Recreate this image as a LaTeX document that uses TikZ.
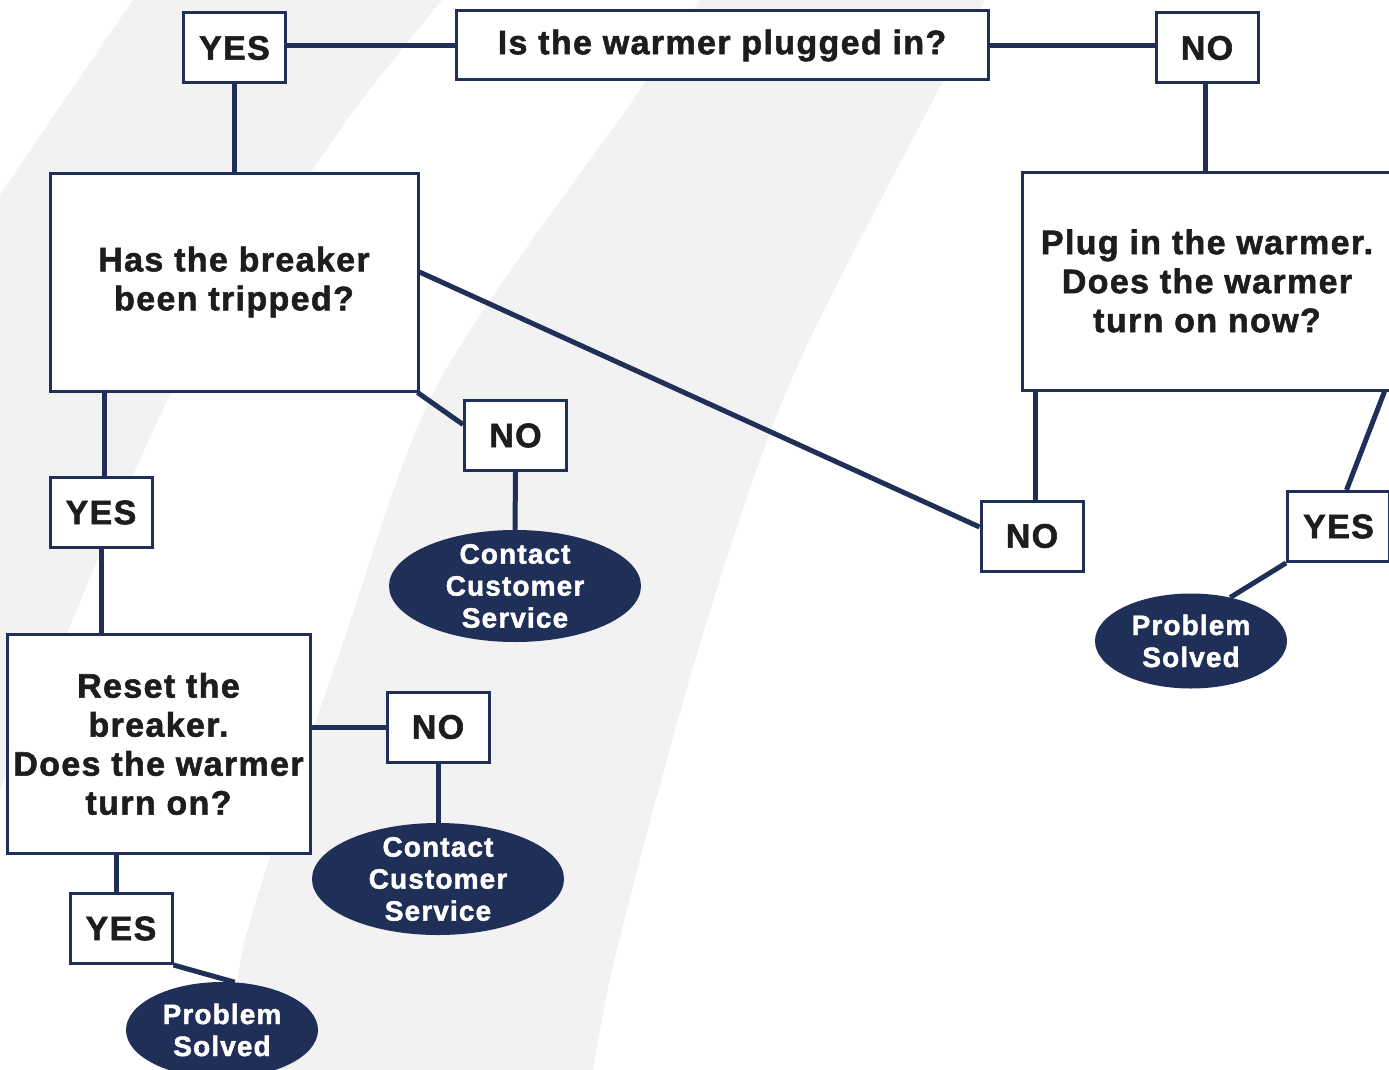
\documentclass[tikz,border=0pt]{standalone}
\usepackage{fontspec}
\setmainfont{Liberation Sans}[LetterSpace=4, BoldFeatures={FakeBold=1.6}]
\usetikzlibrary{shapes.geometric,calc}
\definecolor{navy}{RGB}{31,47,87}
\definecolor{bandgray}{RGB}{242,242,243}
\definecolor{ink}{RGB}{29,29,27}
\begin{document}
\begin{tikzpicture}[x=1pt,y=-1pt,
  box/.style={draw=navy,line width=3pt,fill=white,inner sep=0pt,align=center,text=ink,
    font=\bfseries\fontsize{34}{39}\selectfont},
  ans/.style={box,minimum width=102pt,minimum height=70pt},
  term/.style={ellipse,fill=navy,inner xsep=0pt,inner ysep=-10pt,align=center,text=white,
    font=\bfseries\fontsize{28}{32}\selectfont},
  link/.style={draw=navy,line width=5pt}]
\useasboundingbox (0,0) rectangle (1389,1070);
\fill[white] (0,0) rectangle (1389,1070);
% background bands
\fill[bandgray] plot[smooth] coordinates {(140,-10) (133,0) (44,130) (0,195) (-20,225)}
  -- (-20,860) -- plot[smooth] coordinates {(-20,840) (0,790) (64,640) (178,380) (340,130) (442,0) (450,-10)} -- cycle;
\fill[bandgray] plot[smooth] coordinates {(706,-10) (700,0) (633,100) (440,380) (344,640) (245,940) (235,1070) (234,1080)}
  -- plot[smooth] coordinates {(592,1080) (593,1070) (619,940) (701,640) (791,380) (933,100) (985,0) (990,-10)} -- cycle;

% nodes
\node[box,minimum width=532pt,minimum height=69pt] (q) at (722,45.5) {Is the warmer plugged in?};
\node[ans] (yes1) at (234.5,48) {YES};
\node[ans] (no1) at (1207,48) {NO};
\node[box,minimum width=368pt,minimum height=218pt] (brk) at (234,282) {Has the breaker\\been tripped?};
\node[box,minimum width=370pt,minimum height=218pt] (plug) at (1207,281) {Plug in the warmer.\\Does the warmer\\turn on now?};
\node[ans] (no2) at (515.5,435.5) {NO};
\node[term,minimum width=252pt,minimum height=112pt] (cc1) at (515,586) {Contact\\Customer\\Service};
\node[ans] (no3) at (1032,536) {NO};
\node[ans] (yes2) at (101,512.5) {YES};
\node[box,minimum width=303pt,minimum height=219pt] (reset) at (158.5,744) {Reset the\\breaker.\\Does the warmer\\turn on?};
\node[ans] (no4) at (438,727) {NO};
\node[term,minimum width=252pt,minimum height=112pt] (cc2) at (438,879) {Contact\\Customer\\Service};
\node[ans] (yes3) at (121,928.5) {YES};
\node[term,minimum width=192pt,minimum height=96pt] (ps1) at (222,1030) {Problem\\Solved};
\node[ans] (yes4) at (1338.5,526.5) {YES};
\node[term,minimum width=192pt,minimum height=95pt] (ps2) at (1191,641) {Problem\\Solved};

% connectors
\draw[link] (q.west) -- (q.west -| yes1.east);
\draw[link] (q.east) -- (q.east -| no1.west);
\draw[link] (yes1.south) -- (yes1.south |- brk.north);
\draw[link] ($(no1.south)+(-2,0)$) -- ($(no1.south |- plug.north)+(-2,0)$);
\draw[link] ($(brk.south east)+(-2,0)$) -- ($(no2.west)+(0,-11)$);
\draw[link] (no2.south) -- (cc1.north);
\draw[link] ($(brk.east)+(0,-10)$) -- ($(no3.west)+(0,-9)$);
\draw[link] ($(no3.north)+(3,0)$) -- ($(no3.north |- plug.south)+(3,0)$);
\draw[link] ($(yes2.north)+(3,0)$) -- ($(yes2.north |- brk.south)+(3,0)$);
\draw[link] (yes2.south) -- (yes2.south |- reset.north);
\draw[link] (no4.west) -- (no4.west -| reset.east);
\draw[link] (no4.south) -- (cc2.north);
\draw[link] ($(yes3.north)+(-5,0)$) -- ($(yes3.north |- reset.south)+(-5,0)$);
\draw[link] (yes3.south east) -- (ps1.75);
\draw[link] ($(plug.south east)+(-9,0)$) -- ($(yes4.north)+(8,0)$);
\draw[link] (yes4.south west) -- (ps2.48);
\end{tikzpicture}
\end{document}
